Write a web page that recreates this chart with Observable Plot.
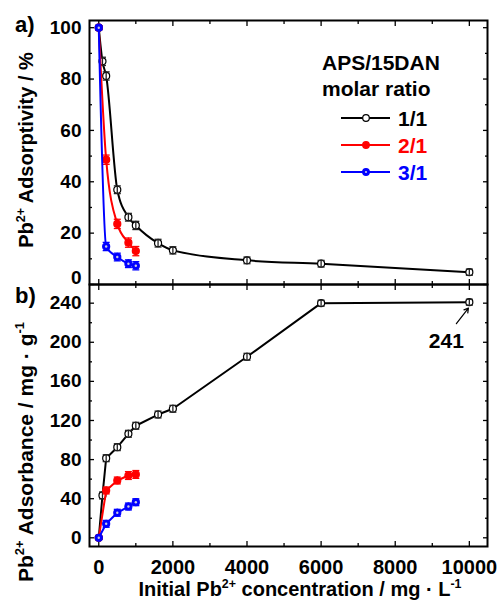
<!DOCTYPE html>
<html><head><meta charset="utf-8">
<script src="https://cdn.jsdelivr.net/npm/d3@7"></script>
<script src="https://cdn.jsdelivr.net/npm/@observablehq/plot@0.6"></script>
<style>
body{margin:0;background:#fff;}
#chart{position:relative;width:501px;height:602px;background:#fff;}
#chart svg{display:block;}
</style></head><body><div id="chart"></div>
<script>
// ---- data ----
const conc11 = [0, 100, 200, 500, 800, 1000, 1600, 2000, 4000, 6000, 10000];
const concLow = [0, 200, 500, 800, 1000];
const seriesNames = ["1/1", "2/1", "3/1"];
const seriesColors = ["black", "#ff0000", "#0000ff"];

const adsorptivity11 = [100, 86.9, 81.2, 36.9, 26.2, 23.0, 16.1, 13.3, 9.4, 8.1, 4.8];
const adsorptivity11Err = [0.8, 1.6, 1.6, 1.5, 1.5, 1.6, 1.5, 1.4, 1.3, 1.3, 1.2];
const adsorptivity21 = [100, 48.6, 23.6, 16.3, 13.0];
const adsorptivity21Err = [0.8, 1.8, 1.8, 1.8, 1.8];
const adsorptivity31 = [100, 14.8, 10.7, 8.1, 7.3];
const adsorptivity31Err = [0.8, 1.6, 1.5, 1.5, 1.6];

const adsorbance11 = [0, 43.3, 81.4, 92.7, 106.4, 114.6, 126.1, 132.0, 185.2, 240.0, 241.0];
const adsorbance11Err = [1, 3.5, 3.5, 3.5, 3.5, 3.5, 3.5, 3.5, 3.5, 3, 3];
const adsorbance21 = [0, 48.4, 58.6, 63.7, 64.8];
const adsorbance21Err = [1, 3.5, 3.5, 4, 4];
const adsorbance31 = [0, 14.3, 25.6, 32.0, 36.4];
const adsorbance31Err = [1, 3.5, 3.5, 3.5, 3.5];

const xTicks = [0, 2000, 4000, 6000, 8000, 10000];
const xMinor = [1000, 3000, 5000, 7000, 9000];
const yTicksA = [20, 40, 60, 80, 100];
const yMinorA = [10, 30, 50, 70, 90];
const yTicksB = [0, 40, 80, 120, 160, 200, 240];
const yMinorB = [20, 60, 100, 140, 180, 220];
const annotation241 = [{x: 10000, y: 241, text: "241"}];
const arrow241 = [{x1: 9650, y1: 219, x2: 9975, y2: 235}];

// ---- helpers ----
const font = "'Liberation Sans', Arial, Helvetica, sans-serif";
const W = 501, ML = 89, MR = 14;
const xDomain = [-250, 10490];

const rows = (xs, ys, es) => xs.map((x, i) => ({x, y: ys[i], e: es[i]}));
const capSymbol = {draw(ctx) { ctx.moveTo(-3.5, 0); ctx.lineTo(3.5, 0); }};

function seriesMarks(data, idx, curve) {
  const color = seriesColors[idx];
  const ebColor = idx === 0 ? "#222" : color;
  const err = [
    Plot.ruleX(data, {x: "x", y1: d => d.y - d.e, y2: d => d.y + d.e, stroke: ebColor, strokeWidth: 1.3}),
    Plot.dot(data, {x: "x", y: d => d.y - d.e, symbol: capSymbol, stroke: ebColor, fill: "none", strokeWidth: 1.3}),
    Plot.dot(data, {x: "x", y: d => d.y + d.e, symbol: capSymbol, stroke: ebColor, fill: "none", strokeWidth: 1.3})
  ];
  const dots = [Plot.dot(data, {x: "x", y: "y", r: 3.5, fill: idx === 0 ? "white" : color, stroke: color, strokeWidth: 1.2})];
  if (idx === 2) dots.push(Plot.dot(data, {x: "x", y: "y", r: 1.2, fill: "#ccd", stroke: "none"}));
  const line = Plot.line(data, {x: "x", y: "y", stroke: color, strokeWidth: 2, curve});
  return idx === 0 ? [line, ...dots, ...err] : [line, ...err, ...dots];
}

function tickAxes(yT, yM) {
  const blank = () => "";
  return [
    Plot.axisX({anchor: "bottom", ticks: xTicks, tickSize: -5, tickFormat: blank, label: null, strokeWidth: 1.3}),
    Plot.axisX({anchor: "bottom", ticks: xMinor, tickSize: -3, tickFormat: blank, label: null, strokeWidth: 1.3}),
    Plot.axisX({anchor: "top", ticks: xTicks, tickSize: -5, tickFormat: blank, label: null, strokeWidth: 1.3}),
    Plot.axisX({anchor: "top", ticks: xMinor, tickSize: -3, tickFormat: blank, label: null, strokeWidth: 1.3}),
    Plot.axisY({anchor: "left", ticks: yT, tickSize: -5, tickFormat: blank, label: null, strokeWidth: 1.3}),
    Plot.axisY({anchor: "left", ticks: yM, tickSize: -3, tickFormat: blank, label: null, strokeWidth: 1.3}),
    Plot.axisY({anchor: "right", ticks: yT, tickSize: -5, tickFormat: blank, label: null, strokeWidth: 1.3}),
    Plot.axisY({anchor: "right", ticks: yM, tickSize: -3, tickFormat: blank, label: null, strokeWidth: 1.3})
  ];
}

const style = {fontFamily: font, fontWeight: "bold", fontSize: "19px", color: "black", background: "white", overflow: "visible"};

// ---- panel a ----
const plotA = Plot.plot({
  width: W, height: 284, marginTop: 20, marginBottom: 0, marginLeft: ML, marginRight: MR,
  style,
  x: {domain: xDomain},
  y: {domain: [0, 102.8]},
  marks: [
    ...tickAxes([0, ...yTicksA], yMinorA),
    Plot.axisY({anchor: "left", ticks: yTicksA, tickSize: 0, tickPadding: 8, tickFormat: d3.format("d"), label: null, fontSize: 19}),
    Plot.axisY({anchor: "left", ticks: [0], tickSize: 0, tickPadding: 8, tickFormat: d3.format("d"), label: null, fontSize: 19, dy: -7}),
    ...seriesMarks(rows(conc11, adsorptivity11, adsorptivity11Err), 0, "monotone-x"),
    ...seriesMarks(rows(concLow, adsorptivity21, adsorptivity21Err), 1, "monotone-x"),
    ...seriesMarks(rows(concLow, adsorptivity31, adsorptivity31Err), 2, "monotone-x"),
    Plot.frame({stroke: "black", strokeWidth: 2})
  ]
});

// ---- panel b ----
const plotB = Plot.plot({
  width: W, height: 318, marginTop: 0, marginBottom: 56, marginLeft: ML, marginRight: MR,
  style,
  x: {domain: xDomain},
  y: {domain: [-8.9, 259.1]},
  marks: [
    ...tickAxes(yTicksB, yMinorB),
    Plot.axisY({anchor: "left", ticks: yTicksB, tickSize: 0, tickPadding: 8, tickFormat: d3.format("d"), label: null, fontSize: 19}),
    Plot.axisX({anchor: "bottom", ticks: xTicks, tickSize: 0, tickPadding: 13, tickFormat: d3.format("d"), label: null, fontSize: 20}),
    ...seriesMarks(rows(conc11, adsorbance11, adsorbance11Err), 0, "linear"),
    ...seriesMarks(rows(concLow, adsorbance21, adsorbance21Err), 1, "linear"),
    ...seriesMarks(rows(concLow, adsorbance31, adsorbance31Err), 2, "linear"),
    Plot.arrow(arrow241, {x1: "x1", y1: "y1", x2: "x2", y2: "y2", stroke: "black", strokeWidth: 1.2, headLength: 6}),
    Plot.text(annotation241, {x: "x", y: "y", text: "text", dx: -23, dy: 39, fontSize: 21, fontWeight: "bold", fill: "black"}),
    Plot.frame({stroke: "black", strokeWidth: 2})
  ]
});

const chart = document.getElementById("chart");
chart.append(plotA, plotB);

// ---- text decorations (labels, legend) ----
function addText(svg, x, y, parts, size, opts = {}) {
  const t = d3.select(svg).append("text")
    .attr("font-family", font).attr("font-weight", "bold").attr("font-size", size)
    .attr("fill", opts.fill || "black")
    .attr("text-anchor", opts.anchor || "start");
  if (opts.rotate) t.attr("transform", `translate(${x},${y}) rotate(-90)`);
  else t.attr("x", x).attr("y", y);
  let shift = 0;
  for (const p of parts) {
    const s = t.append("tspan").text(p.t);
    if (p.sup) { s.attr("font-size", size * 0.62).attr("dy", -size * 0.42 - shift); shift = -size * 0.42; }
    else { if (shift) s.attr("dy", -shift); shift = 0; }
  }
  return t;
}

const sa = plotA, sb = plotB;
addText(sa, 15, 32, [{t: "a)"}], 22);
addText(sb, 15, 303 - 284, [{t: "b)"}], 22);
addText(sa, 33, 150, [{t: "Pb"}, {t: "2+", sup: true}, {t: " Adsorptivity / %"}], 20, {anchor: "middle", rotate: true});
addText(sb, 33, 452 - 284, [{t: "Pb"}, {t: "2+", sup: true}, {t: " Adsorbance / mg · g"}, {t: "-1", sup: true}], 21, {anchor: "middle", rotate: true});
addText(sb, 300, 596 - 284, [{t: "Initial Pb"}, {t: "2+", sup: true}, {t: " concentration / mg · L"}, {t: "-1", sup: true}], 20, {anchor: "middle"});

// legend
addText(sa, 322, 70, [{t: "APS/15DAN"}], 21);
addText(sa, 322, 96, [{t: "molar ratio"}], 21);
const legendY = [118, 145, 172];
const gl = d3.select(sa).append("g");
seriesNames.forEach((name, i) => {
  const y = legendY[i], c = seriesColors[i];
  gl.append("line").attr("x1", 341).attr("x2", 390).attr("y1", y).attr("y2", y).attr("stroke", c).attr("stroke-width", 2);
  gl.append("circle").attr("cx", 366).attr("cy", y).attr("r", 3.3).attr("fill", i === 0 ? "white" : c).attr("stroke", c).attr("stroke-width", 1.2);
  if (i === 2) gl.append("circle").attr("cx", 366).attr("cy", y).attr("r", 1.1).attr("fill", "#ccd");
  addText(sa, 398, y + 7.5, [{t: name}], 21, {fill: c});
});
</script></body></html>
